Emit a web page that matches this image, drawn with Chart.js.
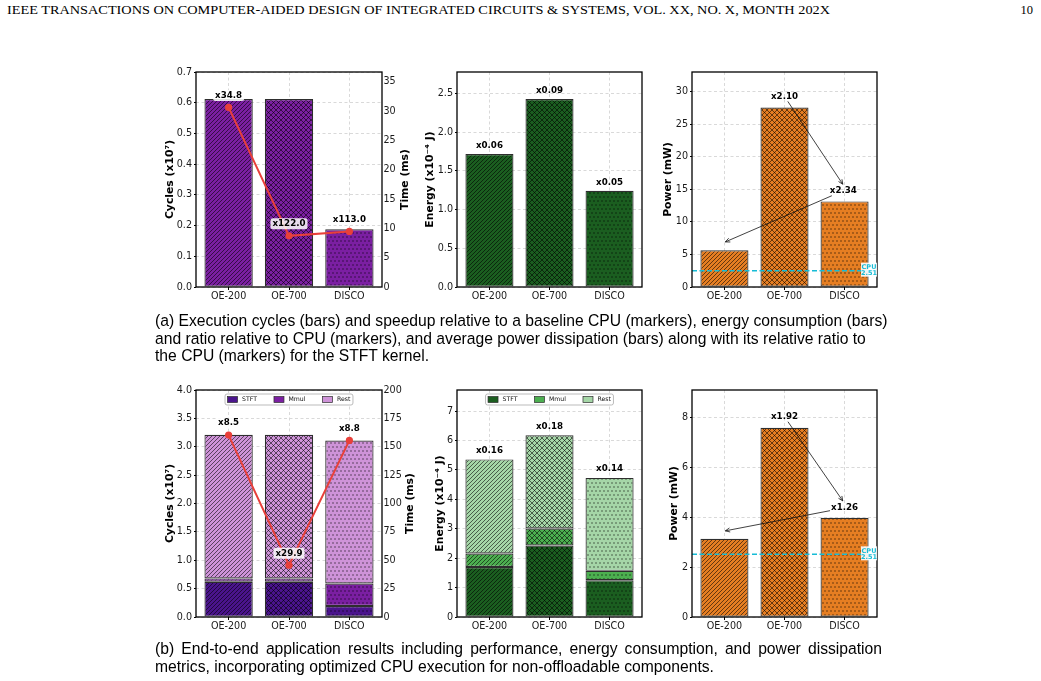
<!DOCTYPE html>
<html><head><meta charset="utf-8">
<script src="https://cdn.jsdelivr.net/npm/chart.js@4.4.1/dist/chart.umd.min.js"></script>
<style>
html,body{margin:0;padding:0;background:#fff;}
#page{position:relative;width:1041px;height:681px;overflow:hidden;background:#fff;}
.cv{position:absolute;}
.txt{position:absolute;white-space:nowrap;color:#000;line-height:1;}
.hdr{font-family:'Liberation Serif','Times New Roman',serif;font-size:12.5px;transform-origin:0 0;}
.cap{font-family:'Liberation Sans',Arial,sans-serif;}
</style></head><body>
<div id="page"></div>
<script>
// ---------------- data ----------------
const categories = ['OE-200', 'OE-700', 'DISCO'];
const segments = ['STFT', 'Mmul', 'Rest'];

// (a) STFT kernel
const kernelCycles = [0.612, 0.612, 0.188];      // x10^7
const kernelTime = [30.65, 8.73, 9.48];          // ms
const kernelSpeedup = ['x34.8', 'x122.0', 'x113.0'];
const kernelEnergy = [1.72, 2.43, 1.245];        // x10^-4 J
const kernelEnergyRatio = ['x0.06', 'x0.09', 'x0.05'];
const kernelPower = [5.65, 27.58, 13.16];        // mW
const kernelPowerRatio = ['x2.10', 'x2.34'];
const kernelCpuPower = 2.51;

// (b) end-to-end application
const appCyclesSTFT = [0.62, 0.62, 0.195];
const appCyclesMmul = [0.06, 0.06, 0.395];
const appCyclesRest = [2.53, 2.53, 2.52];
const appTime = [160.3, 45.6, 155.6];
const appSpeedup = ['x8.5', 'x29.9', 'x8.8'];
const appEnergySTFT = [1.70, 2.43, 1.25];
const appEnergyMmul = [0.46, 0.58, 0.32];
const appEnergyRest = [3.20, 3.17, 3.16];
const appEnergyRatio = ['x0.16', 'x0.18', 'x0.14'];
const appPower = [3.13, 7.58, 3.97];
const appPowerRatio = ['x1.92', 'x1.26'];
const appCpuPower = 2.51;

// tick values
const ticksCyclesA = [0, 0.1, 0.2, 0.3, 0.4, 0.5, 0.6, 0.7];
const ticksTimeA = [0, 5, 10, 15, 20, 25, 30, 35];
const ticksEnergyA = [0, 0.5, 1, 1.5, 2, 2.5];
const ticksPowerA = [0, 5, 10, 15, 20, 25, 30];
const ticksCyclesB = [0, 0.5, 1, 1.5, 2, 2.5, 3, 3.5, 4];
const ticksTimeB = [0, 25, 50, 75, 100, 125, 150, 175, 200];
const ticksEnergyB = [0, 1, 2, 3, 4, 5, 6, 7];
const ticksPowerB = [0, 2, 4, 6, 8];

// texts
const headerText = 'IEEE TRANSACTIONS ON COMPUTER-AIDED DESIGN OF INTEGRATED CIRCUITS & SYSTEMS, VOL. XX, NO. X, MONTH 202X';
const pageNumber = '10';
const captionA = [
  '(a) Execution cycles (bars) and speedup relative to a baseline CPU (markers), energy consumption (bars)',
  'and ratio relative to CPU (markers), and average power dissipation (bars) along with its relative ratio to',
  'the CPU (markers) for the STFT kernel.'
];
const captionB = [
  '(b) End-to-end application results including performance, energy consumption, and power dissipation',
  'metrics, incorporating optimized CPU execution for non-offloadable components.'
];

// ---------------- style ----------------
const FONT = "'DejaVu Sans', sans-serif";
const TICK_SIZE = 9.6, TITLE_SIZE = 10.8, LABEL_SIZE = 8.7;
const TICK_COLOR = '#1a1a1a';
const GRID = '#cfcfcf';
const EDGE = '#2e2e2e';
const HATCH = 'rgba(0,0,0,0.75)';
const RED = '#e8403a';
const CYAN = '#17bcd6';
const PURPLE = '#7b1fa2', PURPLE_D = '#4a148c', PURPLE_L = '#ce93d8';
const GREEN = '#1b5e20', GREEN_M = '#4caf50', GREEN_L = '#a5d6a7';
const ORANGE = '#e67e22';
const LA = 50, PT = 12, PB = 26;

Chart.defaults.font.family = FONT;
Chart.defaults.color = TICK_COLOR;
Chart.defaults.animation = false;

const page = document.getElementById('page');

function hatch(color, kind) {
  const S = kind === 'cross' ? 5 : 4;
  const c = document.createElement('canvas');
  c.width = S; c.height = kind === 'dot' ? S * 2 : S;
  const g = c.getContext('2d');
  g.fillStyle = color; g.fillRect(0, 0, c.width, c.height);
  g.strokeStyle = HATCH; g.fillStyle = HATCH; g.lineWidth = 0.75;
  const diag = (flip) => {
    for (let k = -1; k <= 1; k++) {
      g.beginPath();
      if (!flip) { g.moveTo(k * S, S); g.lineTo(k * S + S, 0); }
      else { g.moveTo(k * S, 0); g.lineTo(k * S + S, S); }
      g.stroke();
    }
  };
  if (kind === 'diag') diag(false);
  else if (kind === 'cross') { diag(false); diag(true); }
  else {
    g.beginPath(); g.arc(1, 1, 0.7, 0, Math.PI * 2); g.fill();
    g.beginPath(); g.arc(3, 5, 0.7, 0, Math.PI * 2); g.fill();
  }
  return g.createPattern(c, 'repeat');
}
const hatchSet = (color) => [hatch(color, 'diag'), hatch(color, 'cross'), hatch(color, 'dot')];

function xAxis(stacked) {
  return {
    type: 'linear', min: -0.54, max: 2.54, stacked: !!stacked, offset: false, bounds: 'data', grace: 0,
    afterBuildTicks: s => { s.ticks = categories.map((_, i) => ({ value: i })); },
    ticks: { callback: v => categories[v] ?? '', font: { size: TICK_SIZE }, color: TICK_COLOR, padding: 1, maxRotation: 0, autoSkip: false, includeBounds: false },
    grid: { offset: false, color: GRID, lineWidth: 0.8, tickLength: 3, tickColor: '#000', tickWidth: 1, tickBorderDash: [] },
    border: { display: false, dash: [3, 2.5] },
    afterFit: s => { s.height = PB; }
  };
}
function yAxis(max, ticks, fmt, title, gap, stacked) {
  return {
    type: 'linear', position: 'left', min: 0, max, stacked: !!stacked,
    afterBuildTicks: s => { s.ticks = ticks.map(v => ({ value: v })); },
    ticks: { callback: v => fmt(v), font: { size: TICK_SIZE }, color: TICK_COLOR, padding: 2 },
    grid: { color: GRID, lineWidth: 0.8, tickLength: 2, tickColor: '#000', tickWidth: 1, tickBorderDash: [] },
    border: { display: false, dash: [3, 2.5] },
    title: { display: true, text: title, font: { size: TITLE_SIZE, weight: 'bold' }, color: '#000',
             padding: { top: LA - gap - TITLE_SIZE * 0.6, bottom: 0 } },
    afterFit: s => { s.width = LA; }
  };
}
function y1Axis(max, ticks) {
  return {
    type: 'linear', position: 'right', min: 0, max,
    afterBuildTicks: s => { s.ticks = ticks.map(v => ({ value: v })); },
    ticks: { callback: v => String(v), font: { size: TICK_SIZE }, color: TICK_COLOR, padding: 1.5 },
    grid: { drawOnChartArea: false, drawTicks: false },
    border: { display: false },
    afterFit: s => { s.width = 45; }
  };
}
const pts = arr => arr.map((v, i) => ({ x: i, y: v }));
const f1 = v => Number(v).toFixed(1);
const f0 = v => String(v);

function barDs(values, bg, label) {
  return { type: 'bar', label, data: pts(values), backgroundColor: bg, borderColor: EDGE, borderWidth: 1.2,
           borderSkipped: false, categoryPercentage: 0.8, barPercentage: 1.0, yAxisID: 'y', order: 2 };
}
function lineDs(values) {
  return { type: 'line', data: pts(values), yAxisID: 'y1', borderColor: RED, backgroundColor: RED, borderWidth: 2,
           pointRadius: 3.6, pointBackgroundColor: RED, pointBorderWidth: 0, order: 0 };
}

// ---------------- decoration plugin ----------------
function roundRect(ctx, x, y, w, h, r) {
  ctx.beginPath();
  ctx.moveTo(x + r, y); ctx.lineTo(x + w - r, y); ctx.quadraticCurveTo(x + w, y, x + w, y + r);
  ctx.lineTo(x + w, y + h - r); ctx.quadraticCurveTo(x + w, y + h, x + w - r, y + h);
  ctx.lineTo(x + r, y + h); ctx.quadraticCurveTo(x, y + h, x, y + h - r);
  ctx.lineTo(x, y + r); ctx.quadraticCurveTo(x, y, x + r, y); ctx.closePath();
}
function arrow(ctx, x0, y0, x1, y1) {
  ctx.beginPath(); ctx.moveTo(x0, y0); ctx.lineTo(x1, y1); ctx.stroke();
  const ang = Math.atan2(y1 - y0, x1 - x0), L = 5, w = 0.42;
  ctx.beginPath();
  ctx.moveTo(x1 - L * Math.cos(ang - w), y1 - L * Math.sin(ang - w));
  ctx.lineTo(x1, y1);
  ctx.lineTo(x1 - L * Math.cos(ang + w), y1 - L * Math.sin(ang + w));
  ctx.stroke();
}
const decoPlugin = {
  id: 'deco',
  afterDatasetsDraw(chart) {
    const d = chart.canvas._deco; if (!d) return;
    const ctx = chart.ctx, a = chart.chartArea, xs = chart.scales.x, ys = chart.scales.y;
    ctx.save();
    if (d.cpu != null) {
      const y = ys.getPixelForValue(d.cpu);
      ctx.strokeStyle = CYAN; ctx.lineWidth = 1.5; ctx.setLineDash([5, 2.5]);
      ctx.beginPath(); ctx.moveTo(a.left, y); ctx.lineTo(a.right, y); ctx.stroke();
      ctx.setLineDash([]);
    }
    ctx.strokeStyle = '#000'; ctx.lineWidth = 1.3; ctx.setLineDash([]);
    ctx.strokeRect(a.left, a.top, a.right - a.left, a.bottom - a.top);
    if (d.cpu != null) {
      const y = ys.getPixelForValue(d.cpu), cx = a.right - 8;
      ctx.font = `bold 6.5px ${FONT}`; ctx.textAlign = 'center'; ctx.textBaseline = 'middle';
      ctx.fillStyle = 'rgba(255,255,255,0.9)';
      ctx.fillRect(cx - 8, y - 8, 16, 14);
      ctx.fillStyle = CYAN;
      ctx.fillText('CPU', cx, y - 3.5);
      ctx.fillText(String(d.cpu), cx, y + 3);
    }
    if (d.barLabels) {
      ctx.font = `bold ${LABEL_SIZE}px ${FONT}`; ctx.fillStyle = '#000';
      ctx.textAlign = 'center'; ctx.textBaseline = 'middle';
      d.barLabels.forEach((t, i) => {
        ctx.fillText(t, xs.getPixelForValue(i), ys.getPixelForValue(d.barTotals[i]) - d.barGap);
      });
    }
    if (d.lineLabels) {
      const y1 = chart.scales.y1;
      ctx.font = `bold ${LABEL_SIZE}px ${FONT}`; ctx.textAlign = 'center'; ctx.textBaseline = 'middle';
      d.lineLabels.forEach((t, i) => {
        const x = xs.getPixelForValue(i), y = y1.getPixelForValue(d.lineValues[i]) - 12;
        const w = ctx.measureText(t).width;
        ctx.fillStyle = 'rgba(255,255,255,0.85)';
        roundRect(ctx, x - w / 2 - 2, y - 5.5, w + 4, 11, 2.5); ctx.fill();
        ctx.fillStyle = '#000'; ctx.fillText(t, x, y);
      });
    }
    if (d.notes) {
      ctx.font = `bold ${LABEL_SIZE}px ${FONT}`; ctx.textAlign = 'center'; ctx.textBaseline = 'middle';
      ctx.strokeStyle = '#111'; ctx.lineWidth = 0.8;
      d.notes.forEach(n => {
        const tx = xs.getPixelForValue(n.at[0]), ty = ys.getPixelForValue(n.at[1]);
        const hx = xs.getPixelForValue(n.to[0]), hy = ys.getPixelForValue(n.to[1]);
        const w = ctx.measureText(n.text).width + 2, h = 10;
        let dx = hx - tx, dy = hy - ty; const L = Math.hypot(dx, dy); dx /= L; dy /= L;
        const t = Math.min(Math.abs(dx) > 1e-6 ? (w / 2) / Math.abs(dx) : 1e9, Math.abs(dy) > 1e-6 ? (h / 2) / Math.abs(dy) : 1e9);
        arrow(ctx, tx + dx * t, ty + dy * t, hx, hy);
        ctx.fillStyle = '#000'; ctx.fillText(n.text, tx, ty);
      });
    }
    if (d.legend) {
      ctx.font = `6.2px ${FONT}`; ctx.textBaseline = 'middle'; ctx.textAlign = 'left';
      const sw = 10, sh = 6, gap = 4.5, sep = 17, pad = 2.5;
      const widths = d.legend.map(it => sw + gap + ctx.measureText(it.label).width);
      const total = widths.reduce((s, v) => s + v, 0) + sep * (d.legend.length - 1) + pad * 2;
      const x0 = (a.left + a.right) / 2 - total / 2, y0 = a.top + 4, h = 11;
      ctx.fillStyle = 'rgba(255,255,255,0.9)'; ctx.strokeStyle = '#aaa'; ctx.lineWidth = 0.8;
      roundRect(ctx, x0, y0, total, h, 2); ctx.fill(); ctx.stroke();
      let x = x0 + pad;
      d.legend.forEach((it, i) => {
        ctx.fillStyle = it.color; ctx.fillRect(x, y0 + (h - sh) / 2, sw, sh);
        ctx.strokeStyle = EDGE; ctx.lineWidth = 0.7; ctx.strokeRect(x, y0 + (h - sh) / 2, sw, sh);
        ctx.fillStyle = '#111'; ctx.fillText(it.label, x + sw + gap, y0 + h / 2 + 0.3);
        x += widths[i] + sep;
      });
    }
    if (d.rightTitle) {
      ctx.font = `bold ${TITLE_SIZE}px ${FONT}`; ctx.fillStyle = '#000';
      ctx.textAlign = 'center'; ctx.textBaseline = 'middle';
      ctx.translate(a.right + d.rightGap, (a.top + a.bottom) / 2); ctx.rotate(-Math.PI / 2);
      ctx.fillText(d.rightTitle, 0, 0);
    }
    ctx.restore();
  }
};
Chart.register(decoPlugin);

function makeChart(rect, scales, datasets, deco) {
  const right = !!scales.y1;
  const RA = right ? 45 : 14;
  const w = rect.x1 - rect.x0, h = rect.y1 - rect.y0;
  const cv = document.createElement('canvas');
  cv.width = LA + w + RA; cv.height = PT + h + PB;
  cv.className = 'cv';
  cv.style.left = (rect.x0 - LA) + 'px'; cv.style.top = (rect.y0 - PT) + 'px';
  cv._deco = deco;
  page.appendChild(cv);
  return new Chart(cv, {
    type: 'bar',
    data: { datasets },
    options: {
      responsive: false, devicePixelRatio: 1, animation: false,
      layout: { padding: { top: PT, right: right ? 0 : RA, left: 0, bottom: 0 } },
      scales,
      plugins: { legend: { display: false }, tooltip: { enabled: false } }
    }
  });
}

const sum3 = (a, b, c) => a.map((v, i) => v + b[i] + c[i]);

// ---------------- (a) ----------------
makeChart({ x0: 196, x1: 382, y0: 72, y1: 287 },
  { x: xAxis(), y: yAxis(0.7, ticksCyclesA, f1, 'Cycles (x10⁷)', 26), y1: y1Axis(36.7, ticksTimeA) },
  [barDs(kernelCycles, hatchSet(PURPLE), 'Cycles'), lineDs(kernelTime)],
  { lineLabels: kernelSpeedup, lineValues: kernelTime, rightTitle: 'Time (ms)', rightGap: 23 });

makeChart({ x0: 457, x1: 642, y0: 72, y1: 287 },
  { x: xAxis(), y: yAxis(2.78, ticksEnergyA, f1, 'Energy (x10⁻⁴ J)', 27) },
  [barDs(kernelEnergy, hatchSet(GREEN), 'Energy')],
  { barLabels: kernelEnergyRatio, barTotals: kernelEnergy, barGap: 8 });

makeChart({ x0: 692, x1: 877, y0: 72, y1: 287 },
  { x: xAxis(), y: yAxis(33.05, ticksPowerA, f0, 'Power (mW)', 24) },
  [barDs(kernelPower, hatchSet(ORANGE), 'Power')],
  { cpu: kernelCpuPower,
    notes: [{ text: kernelPowerRatio[0], at: [1.0, 29.3], to: [1.97, 15.8] },
            { text: kernelPowerRatio[1], at: [1.98, 14.8], to: [0.015, 6.93] }] });

// ---------------- (b) ----------------
makeChart({ x0: 196, x1: 382, y0: 390, y1: 617 },
  { x: xAxis(true), y: yAxis(4.0, ticksCyclesB, f1, 'Cycles (x10⁷)', 26, true), y1: y1Axis(200, ticksTimeB) },
  [barDs(appCyclesSTFT, hatchSet(PURPLE_D), segments[0]),
   barDs(appCyclesMmul, hatchSet(PURPLE), segments[1]),
   barDs(appCyclesRest, hatchSet(PURPLE_L), segments[2]),
   lineDs(appTime)],
  { lineLabels: appSpeedup, lineValues: appTime, rightTitle: 'Time (ms)', rightGap: 28.5,
    legend: [{ label: segments[0], color: PURPLE_D }, { label: segments[1], color: PURPLE }, { label: segments[2], color: PURPLE_L }] });

makeChart({ x0: 457, x1: 642, y0: 390, y1: 617 },
  { x: xAxis(true), y: yAxis(7.72, ticksEnergyB, f0, 'Energy (x10⁻⁴ J)', 17, true) },
  [barDs(appEnergySTFT, hatchSet(GREEN), segments[0]),
   barDs(appEnergyMmul, hatchSet(GREEN_M), segments[1]),
   barDs(appEnergyRest, hatchSet(GREEN_L), segments[2])],
  { barLabels: appEnergyRatio, barTotals: sum3(appEnergySTFT, appEnergyMmul, appEnergyRest), barGap: 9,
    legend: [{ label: segments[0], color: GREEN }, { label: segments[1], color: GREEN_M }, { label: segments[2], color: GREEN_L }] });

makeChart({ x0: 692, x1: 877, y0: 390, y1: 617 },
  { x: xAxis(), y: yAxis(9.09, ticksPowerB, f0, 'Power (mW)', 18) },
  [barDs(appPower, hatchSet(ORANGE), 'Power')],
  { cpu: appCpuPower,
    notes: [{ text: appPowerRatio[0], at: [1.0, 8.02], to: [1.97, 4.65] },
            { text: appPowerRatio[1], at: [2.0, 4.37], to: [0.015, 3.45] }] });

// ---------------- page text ----------------
function addText(text, cls, left, top, style) {
  const el = document.createElement('div');
  el.className = 'txt ' + cls; el.textContent = text;
  el.style.left = left + 'px'; el.style.top = top + 'px';
  Object.assign(el.style, style || {});
  page.appendChild(el);
  return el;
}
const hdr = addText(headerText, 'hdr', 7, 3.5);
hdr.style.transform = `scaleX(${823 / hdr.getBoundingClientRect().width})`;
const pn = addText(pageNumber, 'hdr', 0, 3.5);
pn.style.left = (1033 - pn.getBoundingClientRect().width) + 'px';

const mctx = document.createElement('canvas').getContext('2d');
mctx.font = '100px "Liberation Sans"';
const capSize = 100 * 733 / mctx.measureText(captionA[0]).width;
const capCentersA = [321.5, 339.3, 357];
captionA.forEach((t, i) => addText(t, 'cap', 155, capCentersA[i] - 0.55 * capSize, { fontSize: capSize + 'px' }));
const capCentersB = [650, 667.5];
captionB.forEach((t, i) => {
  const st = { fontSize: capSize + 'px' };
  if (i === 0) Object.assign(st, { width: '727px', whiteSpace: 'normal', textAlign: 'justify', textAlignLast: 'justify' });
  addText(t, 'cap', 155, capCentersB[i] - 0.55 * capSize, st);
});
</script>
</body></html>
